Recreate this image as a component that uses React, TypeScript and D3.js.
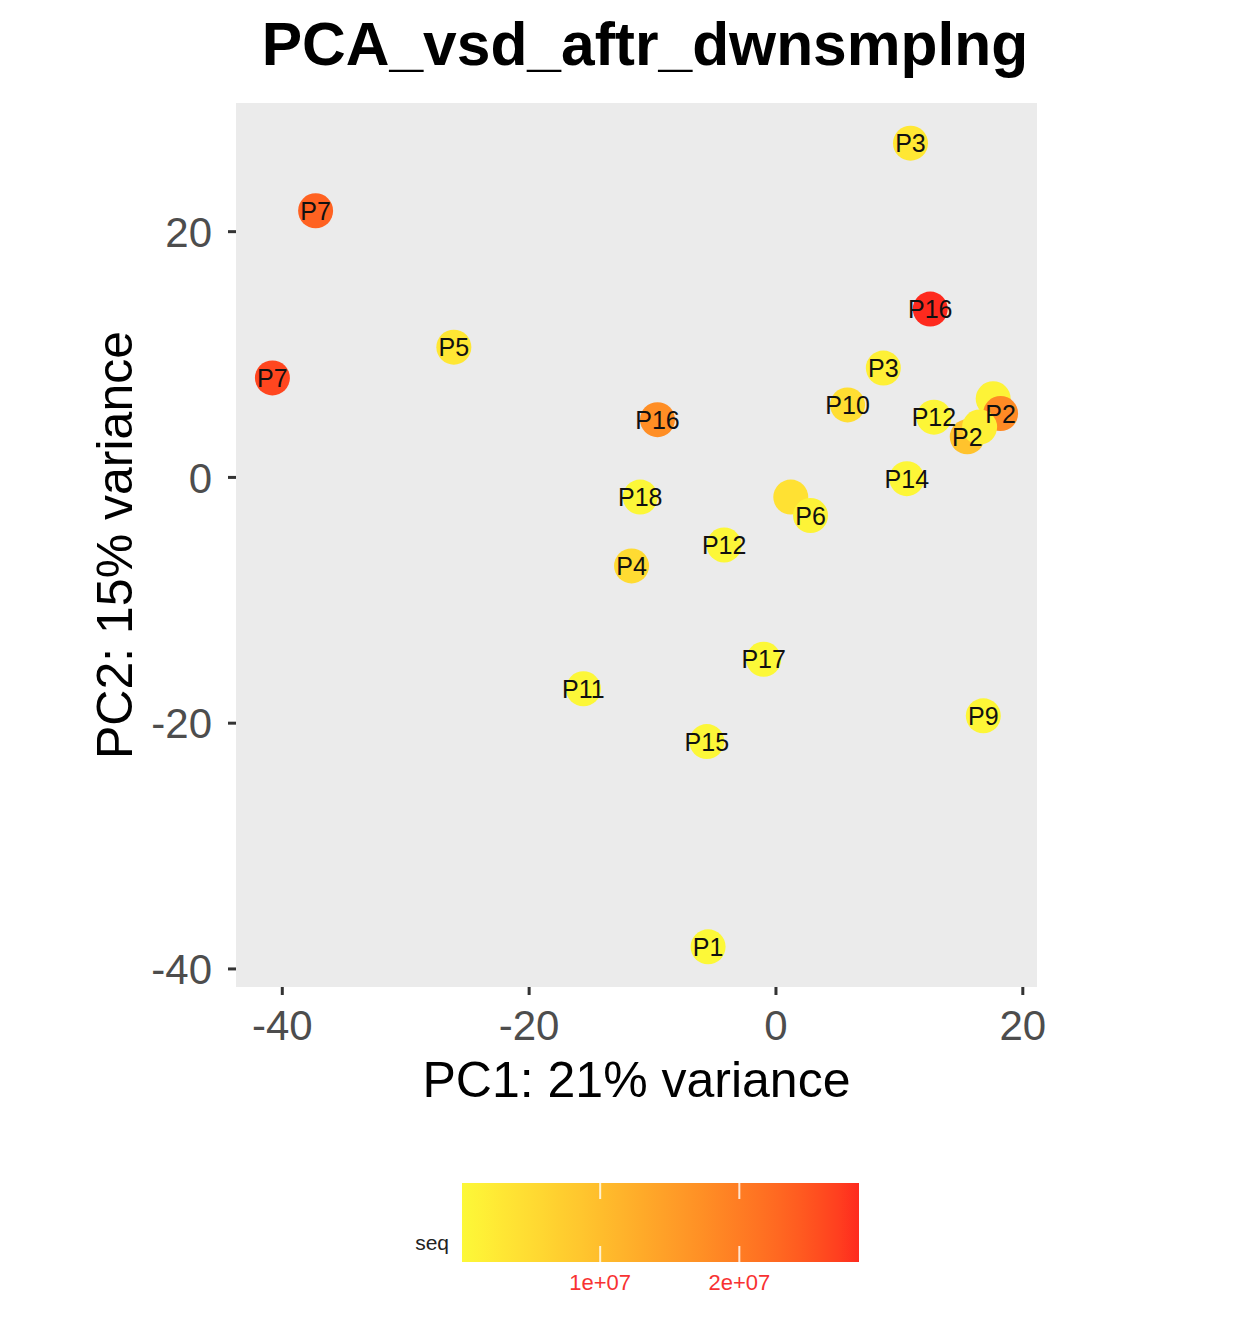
import React from "react";
import * as d3 from "d3";

const labels = ["P3","P7","P16","P5","P7","P3","P10","P16","","P12","P2","P2","","P14","P18","","P6","P12","P4","P17","P11","P9","P15","P1"];
const pc1 = [10.9,-37.3,12.5,-26.1,-40.8,8.7,5.8,-9.6,17.6,12.8,18.2,15.5,16.5,10.6,-11.0,1.2,2.8,-4.2,-11.7,-1.0,-15.6,16.8,-5.6,-5.5];
const pc2 = [27.2,21.7,13.7,10.6,8.1,8.9,5.9,4.7,6.4,4.9,5.2,3.3,4.1,-0.1,-1.6,-1.6,-3.1,-5.5,-7.2,-14.8,-17.2,-19.4,-21.5,-38.2];
const seq = [3.0e6,2.35e7,2.86e7,3.0e6,2.65e7,1.5e6,4.5e6,1.75e7,1.0e6,0.5e6,1.8e7,9.0e6,1.5e6,0.5e6,0.3e6,4.0e6,1.0e6,0.2e6,5.0e6,0.07e6,0.3e6,0.5e6,0.2e6,0.1e6];
const xTicks = [-40,-20,0,20];
const yTicks = [-40,-20,0,20];
const legendTicks = [1e7,2e7];
const legendTickLabels = ["1e+07","2e+07"];

const LOW = "#FCF838";
const HIGH = "#FE2A1E";

export default function App() {
  const W = 1242, H = 1322;
  const panel = { left: 236, right: 1037, top: 103, bottom: 987 };
  const xExt = d3.extent(pc1) as [number, number];
  const yExt = d3.extent(pc2) as [number, number];
  const xPad = (xExt[1] - xExt[0]) * 0.05;
  const yPad = (yExt[1] - yExt[0]) * 0.05;
  const x = d3.scaleLinear().domain([xExt[0] - xPad, xExt[1] + xPad]).range([panel.left, panel.right]);
  const y = d3.scaleLinear().domain([yExt[0] - yPad, yExt[1] + yPad]).range([panel.bottom, panel.top]);
  const sExt = d3.extent(seq) as [number, number];
  const color = d3.scaleLinear<string>().domain(sExt).range([LOW, HIGH]).interpolate(d3.interpolateLab);
  const leg = { left: 462, right: 859, top: 1183, bottom: 1262 };
  const lx = d3.scaleLinear().domain(sExt).range([leg.left, leg.right]);
  const stops = d3.range(0, 1.0001, 0.05);
  const pts = labels.map((l, i) => ({ l, x: pc1[i], y: pc2[i], s: seq[i] }));
  const font = "'Liberation Sans', Arial, Helvetica, sans-serif";

  return (
    <svg width={W} height={H} style={{ display: "block", position: "absolute", left: 0, top: 0 }} fontFamily={font}>
      <defs>
        <linearGradient id="grad" x1="0" x2="1" y1="0" y2="0">
          {stops.map((t) => (
            <stop key={t} offset={t} stopColor={color(sExt[0] + t * (sExt[1] - sExt[0]))} />
          ))}
        </linearGradient>
      </defs>
      <rect x={0} y={0} width={W} height={H} fill="#fff" />
      <text x={645} y={65} textAnchor="middle" fontSize={60.5} fontWeight="bold" fill="#000">PCA_vsd_aftr_dwnsmplng</text>
      <rect x={panel.left} y={panel.top} width={panel.right - panel.left} height={panel.bottom - panel.top} fill="#EBEBEB" />
      {pts.map((p, i) => (
        <circle key={"c" + i} cx={x(p.x)} cy={y(p.y)} r={17.5} fill={color(p.s)} />
      ))}
      {pts.map((p, i) => p.l ? (
        <text key={"t" + i} x={x(p.x)} y={y(p.y)} dy="0.36em" textAnchor="middle" fontSize={25} fill="#111">{p.l}</text>
      ) : null)}
      {xTicks.map((t) => (
        <g key={"xt" + t}>
          <line x1={x(t)} x2={x(t)} y1={panel.bottom} y2={panel.bottom + 8} stroke="#333" strokeWidth={3} />
          <text x={x(t)} y={1040} textAnchor="middle" fontSize={42} fill="#4D4D4D">{t}</text>
        </g>
      ))}
      {yTicks.map((t) => (
        <g key={"yt" + t}>
          <line x1={panel.left - 8} x2={panel.left} y1={y(t)} y2={y(t)} stroke="#333" strokeWidth={3} />
          <text x={212} y={y(t)} dy="0.36em" textAnchor="end" fontSize={42} fill="#4D4D4D">{t}</text>
        </g>
      ))}
      <text x={(panel.left + panel.right) / 2} y={1097} textAnchor="middle" fontSize={50} fill="#000">PC1: 21% variance</text>
      <text transform={`translate(132, ${(panel.top + panel.bottom) / 2}) rotate(-90)`} textAnchor="middle" fontSize={50} fill="#000">PC2: 15% variance</text>
      <rect x={leg.left} y={leg.top} width={leg.right - leg.left} height={leg.bottom - leg.top} fill="url(#grad)" />
      {legendTicks.map((t, i) => (
        <g key={"lt" + t}>
          <line x1={lx(t)} x2={lx(t)} y1={leg.top} y2={leg.top + 16} stroke="#fff" strokeOpacity={0.8} strokeWidth={2} />
          <line x1={lx(t)} x2={lx(t)} y1={leg.bottom - 16} y2={leg.bottom} stroke="#fff" strokeOpacity={0.8} strokeWidth={2} />
          <text x={lx(t)} y={1290} textAnchor="middle" fontSize={22} fill="#F83232">{legendTickLabels[i]}</text>
        </g>
      ))}
      <text x={449} y={1250} textAnchor="end" fontSize={21} fill="#222">seq</text>
    </svg>
  );
}
